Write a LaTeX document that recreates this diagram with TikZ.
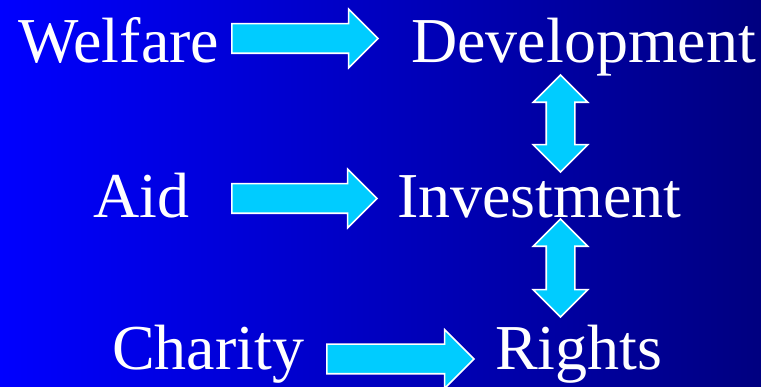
\documentclass[tikz,border=0pt]{standalone}
\usepackage{fontspec}
\setmainfont{Liberation Serif}
\newfontfamily\wordfont{Liberation Serif}
\usetikzlibrary{shapes.arrows}

\definecolor{bgleft}{RGB}{0,0,255}
\definecolor{bgright}{RGB}{0,0,128}
\definecolor{arrowfill}{RGB}{0,204,255}

\begin{document}
\begin{tikzpicture}[x=1pt, y=-1pt,
  every node/.style={font=\wordfont\fontsize{64}{70}\selectfont, text=white, anchor=base west, inner sep=0pt},
  harrow/.style={single arrow, draw=white, line width=1.6pt, fill=arrowfill,
    anchor=center, inner xsep=0pt, inner ysep=14pt, single arrow head extend=14.5pt,
    single arrow head indent=0pt, minimum height=#1},
  varrow/.style={double arrow, draw=white, line width=1.6pt, fill=arrowfill,
    anchor=center, rotate=90, inner xsep=0pt, inner ysep=13.5pt, double arrow head extend=13pt,
    double arrow head indent=0pt, minimum height=#1}]

% ---------- BACKGROUND ----------
\useasboundingbox (0,0) rectangle (761,387);
\shade[left color=bgleft, right color=bgright] (0,0) rectangle (761,387);

% ---------- WORDS ----------
\node (welfare) at (18,63) {Welfare};
\node (develop) at (411,63) {Development};
\node (aid)     at (93,218) {Aid};
\node (invest)  at (397,218) {Investment};
\node (charity) at (112,370) {Charity};
\node (rights)  at (495,370) {Rights};

% ---------- ARROWS ----------
% (center anchor sits in the shaft, so shift left a bit)
\node[harrow=146pt] (welfaretodev) at (297.5,38.5) {};
\node[harrow=145pt] (aidtoinv)     at (297,198.5) {};
\node[harrow=147pt] (chartorights) at (393,359) {};
\node[varrow=97pt]  (devinv)       at (560.5,123.5) {};
\node[varrow=98pt]  (invrights)    at (560.5,268) {};

\end{tikzpicture}
\end{document}
